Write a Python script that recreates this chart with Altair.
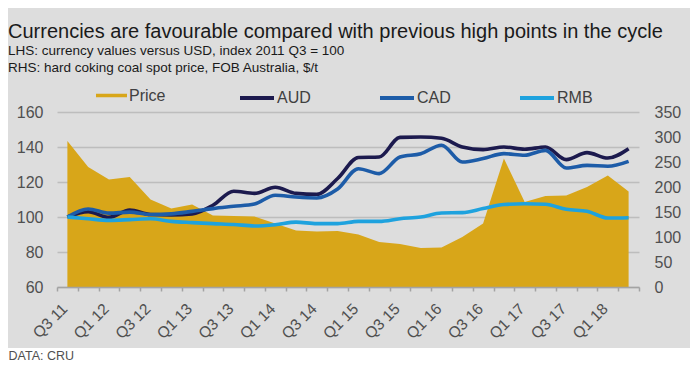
import altair as alt
import pandas as pd

# ---------------- data ----------------
quarters = ["Q3 11", "Q4 11", "Q1 12", "Q2 12", "Q3 12", "Q4 12", "Q1 13", "Q2 13",
            "Q3 13", "Q4 13", "Q1 14", "Q2 14", "Q3 14", "Q4 14", "Q1 15", "Q2 15",
            "Q3 15", "Q4 15", "Q1 16", "Q2 16", "Q3 16", "Q4 16", "Q1 17", "Q2 17",
            "Q3 17", "Q4 17", "Q1 18", "Q2 18"]
tick_labels = ["Q3 11", "Q1 12", "Q3 12", "Q1 13", "Q3 13", "Q1 14", "Q3 14",
               "Q1 15", "Q3 15", "Q1 16", "Q3 16", "Q1 17", "Q3 17", "Q1 18"]
price = [292, 240, 215, 220, 175, 157, 165, 143, 142, 141, 127, 113, 111, 112,
         105, 90, 86, 78, 79, 100, 127, 257, 170, 182, 183, 200, 223, 191]
aud = [100, 103, 99.8, 104, 101.4, 101.2, 101.8, 106.7, 114.7, 113.5, 117, 113.5,
       113, 122, 134, 134.3, 145.5, 145.7, 145, 140, 138.5, 140, 138.7, 140,
       132.8, 136.8, 133.7, 139]
cad = [100, 104.6, 102.2, 102.8, 101.4, 101.8, 103.2, 104.8, 106.1, 107.4, 112.4,
       111.4, 110.9, 116, 127.6, 124.8, 134.3, 136.2, 141, 131.4, 133.4, 136.2,
       135.3, 138.1, 128, 129.5, 129, 131.8]
rmb = [100, 99, 98.1, 98.5, 99, 97.5, 96.8, 96.2, 95.7, 94.9, 95.6, 97.1, 96.2,
       96.2, 97.5, 97.5, 99, 100, 102.3, 102.5, 104.8, 107.1, 107.6, 107.3,
       104.4, 103.3, 99.4, 99.6]
series_names = ["AUD", "CAD", "RMB"]

# ---------------- styling ----------------
W, H = 582, 175
PAD_L, PAD_T, PAD_R, PAD_B = 49, 104, 51, 76
FONT = "Liberation Sans"
BG = "#dddddd"
GOLD = "#d8a619"
LINE_COLORS = ["#1c1a4e", "#1d5ca8", "#1ea2de"]
AXIS_TEXT = "#505050"

n = len(quarters)
idx = list(range(n))
price_df = pd.DataFrame({"i": idx, "quarter": quarters, "value": price, "series": "Price"})
lines_df = pd.concat(
    [pd.DataFrame({"i": idx, "quarter": quarters, "value": vals, "series": name})
     for name, vals in zip(series_names, [aud, cad, rmb])],
    ignore_index=True,
)

tick_vals = [k - 0.5 for k in range(n + 1)]
label_arr = "[" + ",".join("'" + t + "'" for t in tick_labels) + "]"
label_expr = (
    f"((datum.value + 0.5) % 2 == 0 && (datum.value + 0.5) / 2 < {len(tick_labels)})"
    f" ? {label_arr}[(datum.value + 0.5) / 2] : ''"
)

x_scale = alt.Scale(domain=[-0.5, n - 0.5], nice=False, zero=False)
x_axis = alt.Axis(
    values=tick_vals, labelExpr=label_expr, labelAngle=-45,
    labelOffset=W / n / 2 - 8,
    labelFlush=False, labelOverlap=False, grid=False,
    domainColor="#a3a3a3", domainWidth=1.5, tickColor="#a3a3a3", tickWidth=1.5,
    tickSize=4, labelFontSize=15.5, labelColor=AXIS_TEXT, labelPadding=10,
    title="DATA: CRU", titleX=-PAD_L, titleY=PAD_B - 4, titleAlign="left",
    titleBaseline="alphabetic", titleFontSize=12.5, titleFontWeight="normal",
    titleColor="#505050", zindex=1,
)

footer = alt.Chart(pd.DataFrame({"k": [0]})).mark_rect(color="white").encode(
    x=alt.value(-PAD_L), x2=alt.value(W + PAD_R),
    y=alt.value(H + 61), y2=alt.value(H + PAD_B),
)

area = alt.Chart(price_df).mark_area(interpolate="linear", opacity=1).encode(
    x=alt.X("i:Q", scale=x_scale, axis=x_axis),
    y=alt.Y("value:Q", scale=alt.Scale(domain=[0, 350], nice=False),
            axis=alt.Axis(orient="right", values=list(range(0, 351, 50)), grid=False,
                          domain=False, ticks=False, labelPadding=15, labelFontSize=16,
                          labelColor=AXIS_TEXT, title=None)),
    fill=alt.Fill("series:N", scale=alt.Scale(domain=["Price"], range=[GOLD]),
                  legend=alt.Legend(orient="none", legendX=39, legendY=-32, title=None,
                                    symbolType="M-1,-0.113H1V0.113H-1Z", symbolSize=961,
                                    symbolStrokeWidth=0, symbolOpacity=1,
                                    labelFontSize=16, labelColor="#404040",
                                    labelOffset=2, padding=0)),
)

lines = alt.Chart(lines_df).mark_line(strokeWidth=3.6, interpolate="monotone").encode(
    x=alt.X("i:Q", scale=x_scale, axis=x_axis),
    y=alt.Y("value:Q", scale=alt.Scale(domain=[60, 160], nice=False, zero=False),
            axis=alt.Axis(orient="left", values=list(range(60, 161, 20)), grid=True,
                          gridColor="#bdbdbd", gridWidth=1.5, domain=False, ticks=False,
                          labelPadding=14, labelFontSize=16, labelColor=AXIS_TEXT,
                          title=None)),
    stroke=alt.Stroke("series:N", scale=alt.Scale(domain=series_names, range=LINE_COLORS),
                      legend=alt.Legend(orient="none", legendX=181, legendY=-33,
                                        direction="horizontal", title=None,
                                        symbolType="stroke", symbolSize=1156,
                                        symbolStrokeWidth=4, labelFontSize=16,
                                        labelColor="#404040", labelOffset=1,
                                        columnPadding=59, gridAlign="all", padding=0)),
)

chart = alt.layer(footer, area, lines).resolve_scale(
    y="independent", fill="independent", stroke="independent"
).properties(
    width=W, height=H,
    autosize=alt.AutoSizeParams(type="none"),
    padding={"left": PAD_L, "top": PAD_T, "right": PAD_R, "bottom": PAD_B},
    background=BG,
    title=alt.TitleParams(
        text="Currencies are favourable compared with previous high points in the cycle",
        subtitle=["LHS: currency values versus USD, index 2011 Q3 = 100",
                  "RHS: hard coking coal spot price, FOB Australia, $/t"],
        anchor="start", frame="group", dx=-PAD_L, fontSize=20, fontWeight="normal",
        color="#1a1a1a", subtitleFontSize=13.5, subtitleColor="#1a1a1a",
        subtitlePadding=2, subtitleLineHeight=17.7, font=FONT, subtitleFont=FONT,
    ),
).configure(font=FONT).configure_view(stroke=None)

chart.save("out.html", embed_options={"renderer": "svg", "actions": False})
